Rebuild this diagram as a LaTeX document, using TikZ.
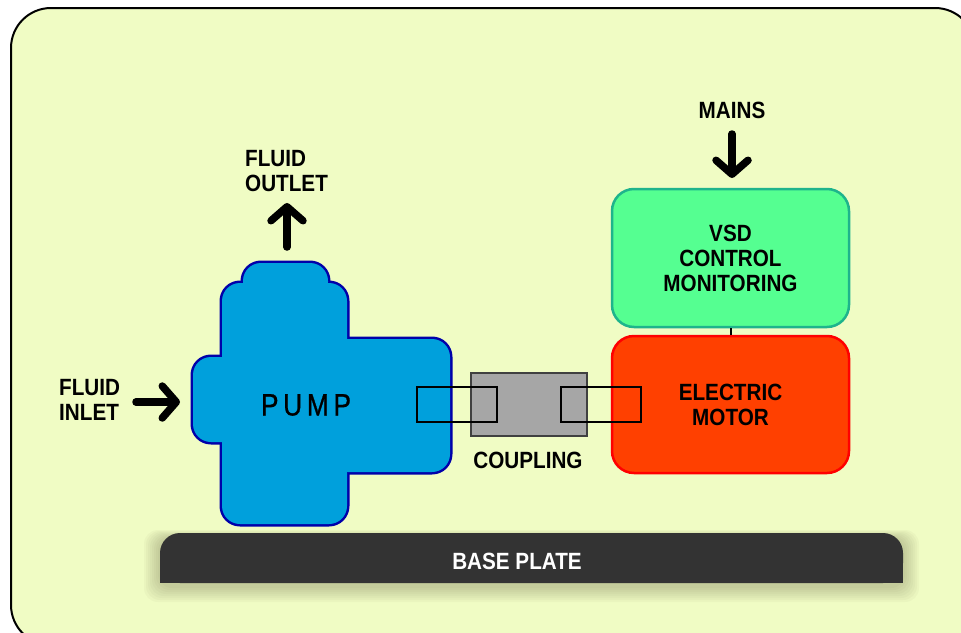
\documentclass[tikz,border=0pt]{standalone}
\usepackage{fontspec}
\setmainfont{Liberation Sans}
\newfontfamily\lblfont[FakeStretch=0.88]{Liberation Sans Bold}
\newfontfamily\pumpfont[FakeStretch=0.85,FakeBold=0.8,LetterSpace=15]{Liberation Sans}
\usetikzlibrary{arrows.meta}
\definecolor{panel}{RGB}{240,252,196}
\definecolor{pumpblue}{RGB}{0,160,220}
\definecolor{pumpedge}{RGB}{0,0,170}
\definecolor{vsdgreen}{RGB}{85,255,145}
\definecolor{vsdedge}{RGB}{30,180,140}
\definecolor{motorred}{RGB}{255,64,0}
\definecolor{plategrey}{RGB}{51,51,51}
\definecolor{couplegrey}{RGB}{166,166,166}
\begin{document}
\begin{tikzpicture}[x=1pt,y=-1pt,
  lbl/.style={font=\lblfont\fontsize{23.5}{25}\selectfont, align=center, inner sep=0pt},
  bigarrow/.style={line width=7.5pt, line cap=round,
    -{Straight Barb[length=14pt,width=32pt,line cap=round,line join=round]}},
  unit/.style={lbl, draw, line width=2.5pt, rounded corners=22pt,
    minimum width=237pt}]
  \clip (0,0) rectangle (961,632);
  \fill[white] (0,0) rectangle (961,632);
  % panel
  \draw[line width=2pt, fill=panel, rounded corners=40pt] (11,8) rectangle (975,645);

  % base plate
  \foreach \s in {2,4,...,16}
    \fill[black!60!olive, opacity=0.035, rounded corners=14pt]
      (160-\s,538-0.5*\s) rectangle (903+\s,586+\s);
  \fill[plategrey, rounded corners=20pt] (160,533) rectangle (903,583);
  \fill[plategrey] (160,560) rectangle (903,583);
  \node[lbl, text=white] (base) at (517,561) {BASE PLATE};

  % pump body
  \foreach \xa/\ya/\xb/\yb in {243/263/328/300, 222/283/347/524,
      330/339/450/472, 193/357/240/442}
    \draw[pumpedge, line width=5pt, rounded corners=18pt] (\xa,\ya) rectangle (\xb,\yb);
  \foreach \xa/\ya/\xb/\yb in {243/263/328/300, 222/283/347/524,
      330/339/450/472, 193/357/240/442}
    \fill[pumpblue, rounded corners=18pt] (\xa,\ya) rectangle (\xb,\yb);
  \node[font=\pumpfont\fontsize{31}{31}\selectfont] (pump) at (306,405) {PUMP};

  % coupling
  \node[draw=black!75, fill=couplegrey, line width=2.5pt, minimum width=116pt,
    minimum height=63pt] (coupling) at (529,404.5) {};
  \node[lbl] (couplbl) at (528,460) {COUPLING};

  % vsd and motor
  \node[unit, draw=vsdedge, fill=vsdgreen, minimum height=138pt] (vsd)
    at (730.5,258) {VSD\\CONTROL\\MONITORING};
  \node[unit, draw=red, fill=motorred, minimum height=137pt] (motor)
    at (730.5,404.5) {ELECTRIC\\MOTOR};
  \draw[line width=2pt] (vsd) -- (motor);

  % shaft ends
  \draw[line width=1.2pt] (417,387) rectangle (497,422);
  \draw[line width=1.2pt] (561,387) rectangle (641,422);

  % flows
  \node[lbl, align=left, anchor=west] (outlet) at (245,171) {FLUID\\OUTLET};
  \node[lbl, align=left, anchor=west] (inlet) at (59,400) {FLUID\\INLET};
  \node[lbl] (mains) at (732,110) {MAINS};
  \coordinate (outtail) at (287,247);
  \coordinate (outtip) at (287,203);
  \coordinate (intail) at (136,402);
  \coordinate (intip) at (180,402);
  \coordinate (mainstail) at (732,134);
  \coordinate (mainstip) at (732,178);
  \draw[bigarrow] (outtail) -- (outtip);
  \draw[bigarrow] (intail) -- (intip);
  \draw[bigarrow] (mainstail) -- (mainstip);
\end{tikzpicture}
\end{document}
